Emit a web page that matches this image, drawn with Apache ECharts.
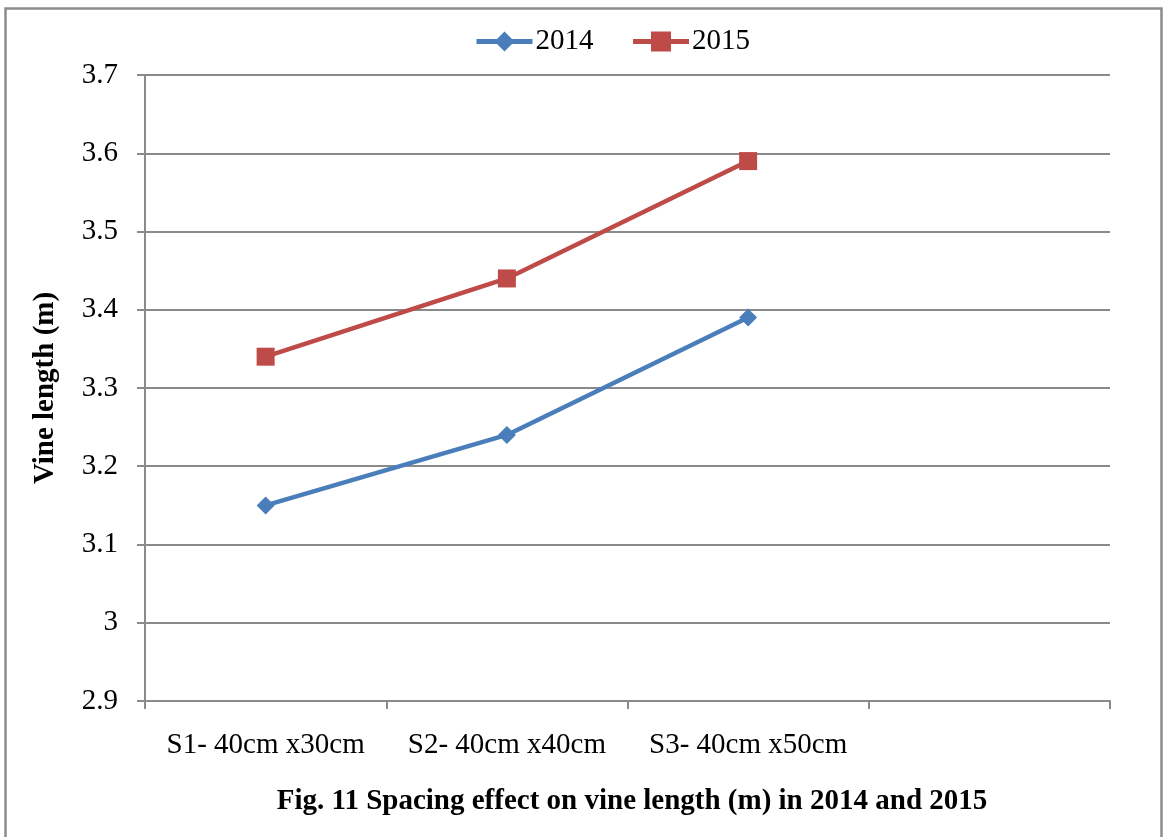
<!DOCTYPE html>
<html>
<head>
<meta charset="utf-8">
<script src="https://cdn.jsdelivr.net/npm/echarts@6/dist/echarts.min.js"></script>
<style>
  html, body { margin: 0; padding: 0; background: #fff; }
  #chart { width: 1164px; height: 837px; }
</style>
</head>
<body>
<div id="chart"></div>
<script>
// Spacing treatments (last band is left empty)
const categories = ['S1- 40cm x30cm', 'S2- 40cm x40cm', 'S3- 40cm x50cm', ''];
// Vine length (m) per year
const vine2014 = [3.15, 3.24, 3.39];
const vine2015 = [3.34, 3.44, 3.59];
const seriesNames = ['2014', '2015'];
const yMin = 2.9, yMax = 3.7, yStep = 0.1;

const FONT = '"Liberation Serif", "Times New Roman", serif';
const GRAY = '#8a8a8a';

const chart = echarts.init(document.getElementById('chart'), null, { renderer: 'canvas' });

chart.setOption({
  backgroundColor: '#ffffff',
  animation: false,
  textStyle: { fontFamily: FONT, color: '#000' },
  title: {
    text: 'Fig. 11 Spacing effect on vine length (m) in 2014 and 2015',
    left: 627,
    top: 782,
    textAlign: 'center',
    textStyle: { fontFamily: FONT, fontSize: 29, fontWeight: 'bold', color: '#000' }
  },
  legend: {
    top: 22,
    left: 469,
    itemWidth: 56,
    itemHeight: 25,
    itemGap: 37,
    lineStyle: { width: 5 },
    textStyle: { fontFamily: FONT, fontSize: 29, color: '#000', padding: [0, 0, 0, -2] },
    data: seriesNames
  },
  grid: { left: 145, right: 54, top: 75, bottom: 136, containLabel: false },
  xAxis: {
    type: 'category',
    data: categories,
    boundaryGap: true,
    axisLine: { lineStyle: { color: GRAY, width: 2 } },
    axisTick: { show: true, length: 8, lineStyle: { color: GRAY, width: 2 } },
    axisLabel: { fontFamily: FONT, fontSize: 29, color: '#000', margin: 30, interval: 0 },
    splitLine: { show: false }
  },
  yAxis: {
    type: 'value',
    min: yMin,
    max: yMax,
    interval: yStep,
    name: 'Vine length (m)',
    nameLocation: 'middle',
    nameRotate: 90,
    nameGap: 85,
    nameTextStyle: { fontFamily: FONT, fontSize: 29, fontWeight: 'bold', color: '#000' },
    axisLine: { show: true, lineStyle: { color: GRAY, width: 2 } },
    axisTick: { show: true, length: 8, lineStyle: { color: GRAY, width: 2 } },
    axisLabel: {
      fontFamily: FONT, fontSize: 29, color: '#000', margin: 27,
      formatter: v => String(Math.round(v * 10) / 10)
    },
    splitLine: { show: true, lineStyle: { color: GRAY, width: 2 } }
  },
  series: [
    {
      name: seriesNames[0],
      type: 'line',
      data: vine2014,
      color: '#4a7ebb',
      lineStyle: { width: 4.5, color: '#4a7ebb' },
      symbol: 'diamond',
      symbolSize: 18,
      itemStyle: { color: '#4a7ebb' },
      z: 3
    },
    {
      name: seriesNames[1],
      type: 'line',
      data: vine2015,
      color: '#be4b48',
      lineStyle: { width: 4.5, color: '#be4b48' },
      symbol: 'rect',
      symbolSize: 18,
      itemStyle: { color: '#be4b48' },
      z: 3
    }
  ],
  graphic: [
    {
      type: 'rect',
      shape: { x: 5.5, y: 8.5, width: 1156, height: 840 },
      style: { fill: null, stroke: '#8c8c8c', lineWidth: 2.5 },
      silent: true
    }
  ]
});
</script>
</body>
</html>
